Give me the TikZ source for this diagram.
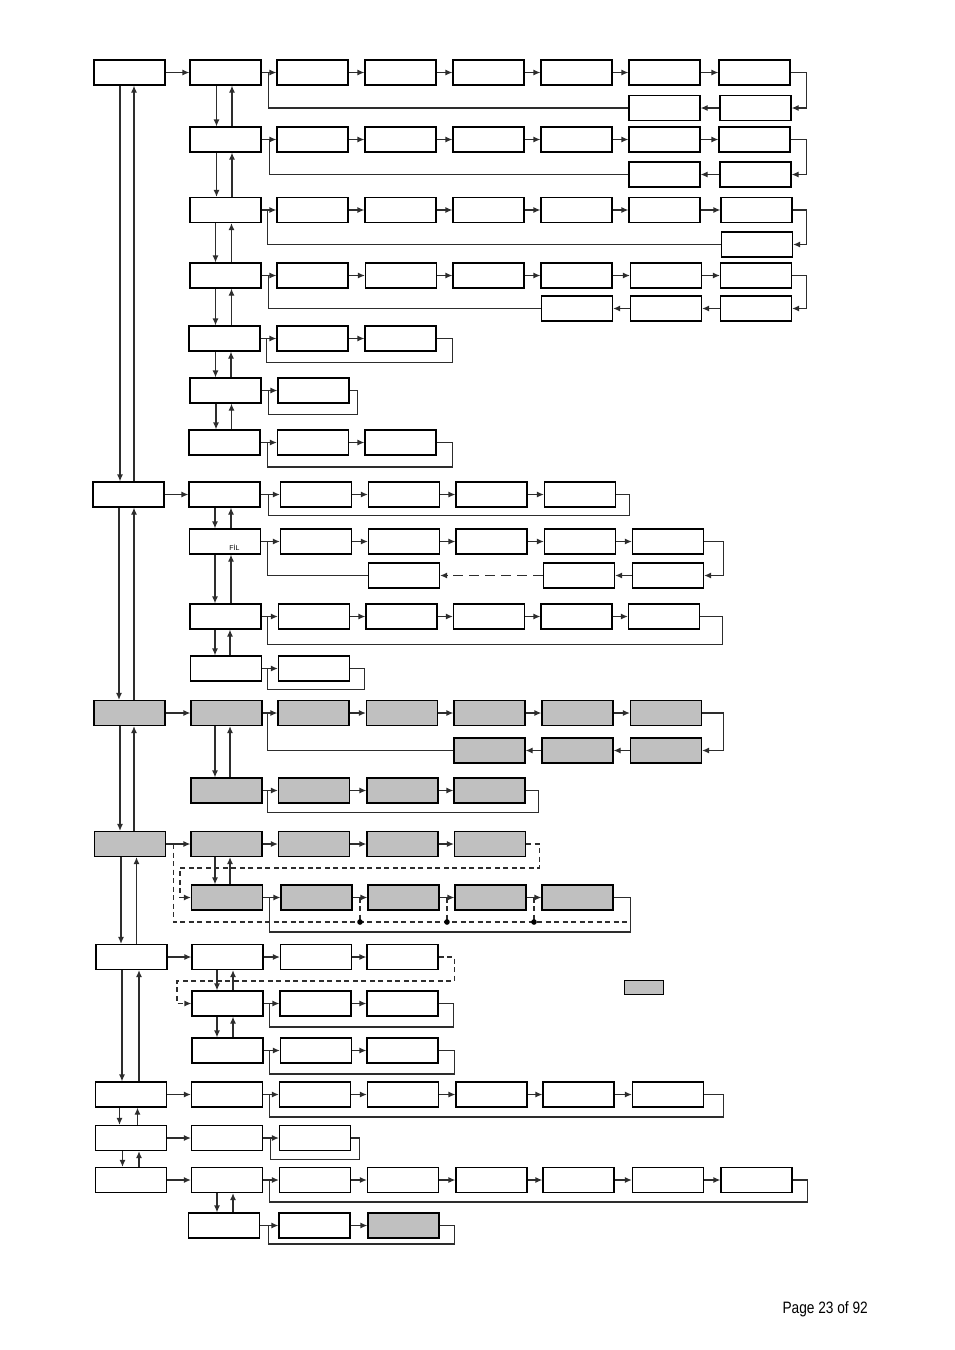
\documentclass[tikz,border=0pt]{standalone}
\usepackage{fontspec}
\usetikzlibrary{arrows.meta,calc}
\newfontfamily\lsans{Liberation Sans}
\newfontfamily\narrowsans[FakeStretch=0.83]{Liberation Sans}
\definecolor{boxgray}{RGB}{192,192,192}
\definecolor{conn}{RGB}{45,45,45}
\tikzset{
 box/.style={draw=black,line width=1.2pt,fill=white,minimum width=71pt,minimum height=25pt,inner sep=0pt},
 gbox/.style={box,fill=boxgray},
 arr/.style={draw=conn,line width=1.2pt,-{Latex[length=7pt,width=6pt]}},
 ln/.style={draw=conn,line width=1.2pt},
 dln/.style={ln,dash pattern=on 5pt off 3.5pt},
 darr/.style={arr,dash pattern=on 5pt off 3.5pt},
}
\newcommand\bx[3]{\node[box] (#1) at (#2,#3) {};}
\newcommand\gbx[3]{\node[gbox] (#1) at (#2,#3) {};}
\newcommand\vpair[4]{%
 \path (#1.south) ++(#3,0) coordinate (vpd) (#1.south) ++(#4,0) coordinate (vpu);
 \draw[arr] (vpd) -- (vpd |- #2.north);
 \draw[arr] (vpu |- #2.north) -- (vpu);}
\newcommand\chain[1]{\foreach \p/\q in {#1} {\draw[arr] (\p.east) -- (\q.west);}}
\newcommand\backchain[1]{\foreach \p/\q in {#1} {\draw[arr] (\p.west) -- (\q.east);}}
\newcommand\sloop[5]{\draw[ln] (#1.east) -| ++(#3,#4) -| ([xshift=#5pt]#2.east);}
\newcommand\rloop[3]{\draw[arr] (#1.east) -- ++(#3,0) |- (#2.east);}
\newcommand\retline[3]{\draw[ln] (#1.west) -| ([xshift=#3pt]#2.east);}
\begin{document}
\begin{tikzpicture}[x=1pt,y=-1pt]
\useasboundingbox (0,0) rectangle (954,1350);
% ---------------- main column
\bx{M1}{129.5}{72.5}
\bx{M2}{128.5}{494.5}
\gbx{M3}{129.5}{713}
\gbx{M4}{130}{844}
\bx{M5}{131.5}{957}
\bx{M6}{131}{1094.5}
\bx{M7}{131}{1138}
\bx{M8}{131}{1180}
\vpair{M1}{M2}{-9.5}{4.5}
\vpair{M2}{M3}{-9.5}{5.5}
\vpair{M3}{M4}{-9.5}{4.5}
\vpair{M4}{M5}{-9}{6.5}
\vpair{M5}{M6}{-9.5}{7.5}
\vpair{M6}{M7}{-11.5}{6.5}
\vpair{M7}{M8}{-8.5}{8}
% ---------------- group A
\bx{A1}{225.5}{72.5}
\bx{A2}{225.5}{139.5}
\bx{A3}{225.5}{210}
\bx{A4}{225.5}{275.5}
\bx{A5}{224.5}{338.5}
\bx{A6}{225.5}{390.5}
\bx{A7}{224.5}{442.5}
\draw[arr] (M1.east) -- (A1.west);
\vpair{A1}{A2}{-9}{6.5}
\vpair{A2}{A3}{-9}{6.5}
\vpair{A3}{A4}{-10}{6}
\vpair{A4}{A5}{-10}{6}
\vpair{A5}{A6}{-9}{6.5}
\vpair{A6}{A7}{-9.5}{6}
% row A1
\bx{A1a}{312.5}{72.5}\bx{A1b}{400.5}{72.5}\bx{A1c}{488.5}{72.5}\bx{A1d}{576.5}{72.5}\bx{A1e}{664.5}{72.5}\bx{A1f}{754.5}{72.5}
\bx{A1g}{755.5}{108}\bx{A1h}{664.5}{108}
\chain{A1/A1a,A1a/A1b,A1b/A1c,A1c/A1d,A1d/A1e,A1e/A1f}
\rloop{A1f}{A1g}{16}
\backchain{A1g/A1h}
\retline{A1h}{A1}{7}
% row A2
\bx{A2a}{312.5}{139.5}\bx{A2b}{400.5}{139.5}\bx{A2c}{488.5}{139.5}\bx{A2d}{576.5}{139.5}\bx{A2e}{664.5}{139.5}\bx{A2f}{754.5}{139.5}
\bx{A2g}{755.5}{174.5}\bx{A2h}{664.5}{174.5}
\chain{A2/A2a,A2a/A2b,A2b/A2c,A2c/A2d,A2d/A2e,A2e/A2f}
\rloop{A2f}{A2g}{16}
\backchain{A2g/A2h}
\retline{A2h}{A2}{8}
% row A3
\bx{A3a}{312.5}{210}\bx{A3b}{400.5}{210}\bx{A3c}{488.5}{210}\bx{A3d}{576.5}{210}\bx{A3e}{664.5}{210}\bx{A3f}{756.5}{210}
\bx{A3g}{757}{244.5}
\chain{A3/A3a,A3a/A3b,A3b/A3c,A3c/A3d,A3d/A3e,A3e/A3f}
\rloop{A3f}{A3g}{14}
\retline{A3g}{A3}{6}
% row A4
\bx{A4a}{312.5}{275.5}\bx{A4b}{401}{275.5}\bx{A4c}{488.5}{275.5}\bx{A4d}{576.5}{275.5}\bx{A4e}{666}{275.5}\bx{A4f}{756}{275.5}
\bx{A4g}{756}{308.5}\bx{A4h}{666}{308.5}\bx{A4i}{577}{308.5}
\chain{A4/A4a,A4a/A4b,A4b/A4c,A4c/A4d,A4d/A4e,A4e/A4f}
\rloop{A4f}{A4g}{14.5}
\backchain{A4g/A4h,A4h/A4i}
\retline{A4i}{A4}{7}
% row A5
\bx{A5a}{312.5}{338.5}\bx{A5b}{400.5}{338.5}
\chain{A5/A5a,A5a/A5b}
\sloop{A5b}{A5}{16}{24}{6}
% row A6
\bx{A6a}{313.5}{390.5}
\chain{A6/A6a}
\sloop{A6a}{A6}{8}{24}{7}
% row A7
\bx{A7a}{313}{442.5}\bx{A7b}{400.5}{442.5}
\chain{A7/A7a,A7a/A7b}
\sloop{A7b}{A7}{16}{24.5}{7}
% ---------------- group B
\bx{B1}{224.5}{494.5}
\bx{B2}{225}{541.5}
\bx{B3}{225.5}{616.5}
\bx{B4}{226}{668.5}
\draw[arr] (M2.east) -- (B1.west);
\vpair{B1}{B2}{-9.5}{6.5}
\vpair{B2}{B3}{-10}{6}
\vpair{B3}{B4}{-10.5}{4.5}
\node[font=\lsans\fontsize{7}{8}\selectfont,inner sep=0pt] (fil) at (234.5,547.5) {FİL};
\bx{B1a}{316}{494.5}\bx{B1b}{404}{494.5}\bx{B1c}{491.5}{494.5}\bx{B1d}{580}{494.5}
\chain{B1/B1a,B1a/B1b,B1b/B1c,B1c/B1d}
\sloop{B1d}{B1}{13}{21}{8}
\bx{B2a}{316}{541.5}\bx{B2b}{404}{541.5}\bx{B2c}{491.5}{541.5}\bx{B2d}{580}{541.5}\bx{B2e}{668}{541.5}
\bx{B2f}{668}{575.5}\bx{B2g}{579}{575.5}\bx{B2h}{404}{575.5}
\chain{B2/B2a,B2a/B2b,B2b/B2c,B2c/B2d,B2d/B2e}
\rloop{B2e}{B2f}{19}
\backchain{B2f/B2g}
\draw[arr,dash pattern=on 10pt off 6pt] (B2g.west) -- (B2h.east);
\retline{B2h}{B2}{6.5}
\bx{B3a}{314}{616.5}\bx{B3b}{401.5}{616.5}\bx{B3c}{489}{616.5}\bx{B3d}{576.5}{616.5}\bx{B3e}{664}{616.5}
\chain{B3/B3a,B3a/B3b,B3b/B3c,B3c/B3d,B3d/B3e}
\sloop{B3e}{B3}{22.5}{28}{6}
\bx{B4a}{314}{668.5}
\chain{B4/B4a}
\sloop{B4a}{B4}{14}{21}{5}
% ---------------- group C
\gbx{C1}{226.5}{713}
\gbx{C2}{226.5}{790.5}
\draw[arr] (M3.east) -- (C1.west);
\vpair{C1}{C2}{-11.5}{3.5}
\gbx{C1a}{313.5}{713}\gbx{C1b}{402}{713}\gbx{C1c}{489.5}{713}\gbx{C1d}{577.5}{713}\gbx{C1e}{666}{713}
\gbx{C1f}{666}{750.5}\gbx{C1g}{577.5}{750.5}\gbx{C1h}{489.5}{750.5}
\chain{C1/C1a,C1a/C1b,C1b/C1c,C1c/C1d,C1d/C1e}
\rloop{C1e}{C1f}{21}
\backchain{C1f/C1g,C1g/C1h}
\retline{C1h}{C1}{5}
\gbx{C2a}{314}{790.5}\gbx{C2b}{402.5}{790.5}\gbx{C2c}{489.5}{790.5}
\chain{C2/C2a,C2a/C2b,C2b/C2c}
\sloop{C2c}{C2}{13}{22}{4.5}
% ---------------- group D
\gbx{D1}{226.5}{844}
\gbx{D2}{227}{897.5}
\draw[arr] (M4.east) -- (D1.west);
\vpair{D1}{D2}{-11.5}{3.5}
\gbx{D1a}{314}{844}\gbx{D1b}{402.5}{844}\gbx{D1c}{490}{844}
\chain{D1/D1a,D1a/D1b,D1b/D1c}
\draw[darr] (D1c.east) -| ++(13,24) -| ([xshift=-11pt]D2.west) -- (D2.west);
\gbx{D2a}{316.5}{897.5}\gbx{D2b}{403.5}{897.5}\gbx{D2c}{490.5}{897.5}\gbx{D2d}{577.5}{897.5}
\chain{D2/D2a,D2a/D2b,D2b/D2c,D2c/D2d}
\draw[ln] (D2d.east) -| ++(16.5,34.5) -| ([xshift=6pt]D2.east);
\path ([xshift=7pt]M4.east) coordinate (dtop);
\path (dtop) ++(0,78) coordinate (dbl);
\path (D2d.east) ++(16.5,0) coordinate (dR);
\draw[dln] (dtop) -- (dbl) -- (dbl -| dR);
\path ($(D2a.east)!0.5!(D2b.west)$) coordinate (dm1);
\path ($(D2b.east)!0.5!(D2c.west)$) coordinate (dm2);
\path ($(D2c.east)!0.5!(D2d.west)$) coordinate (dm3);
\foreach \m in {dm1,dm2,dm3} {
  \draw[dln] (\m) -- (\m |- dbl);
  \fill[black] (\m |- dbl) circle (2.8pt);
}
% ---------------- group E
\bx{E1}{227.5}{957}
\bx{E2}{227.5}{1003.5}
\bx{E3}{227.5}{1050.5}
\draw[arr] (M5.east) -- (E1.west);
\vpair{E1}{E2}{-10.5}{5.5}
\vpair{E2}{E3}{-10.5}{5.5}
\bx{E1a}{316}{957}\bx{E1b}{402.5}{957}
\chain{E1/E1a,E1a/E1b}
\draw[darr] (E1b.east) -| ++(15.5,24) -| ([xshift=-14.5pt]E2.west) -- (E2.west);
\bx{E2a}{315.5}{1003.5}\bx{E2b}{402.5}{1003.5}
\chain{E2/E2a,E2a/E2b}
\sloop{E2b}{E2}{15}{23.5}{6}
\bx{E3a}{316}{1050.5}\bx{E3b}{402.5}{1050.5}
\chain{E3/E3a,E3a/E3b}
\sloop{E3b}{E3}{16}{23.5}{6}
\node[gbox,minimum width=39pt,minimum height=14pt,line width=1pt] (legend) at (643.5,987) {};
% ---------------- group F, G, H
\bx{F1}{227}{1094.5}
\draw[arr] (M6.east) -- (F1.west);
\bx{F1a}{315}{1094.5}\bx{F1b}{403}{1094.5}\bx{F1c}{491.5}{1094.5}\bx{F1d}{578.5}{1094.5}\bx{F1e}{668}{1094.5}
\chain{F1/F1a,F1a/F1b,F1b/F1c,F1c/F1d,F1d/F1e}
\sloop{F1e}{F1}{19.5}{22.5}{6.5}
\bx{G1}{227}{1138}
\draw[arr] (M7.east) -- (G1.west);
\bx{G1a}{315}{1138}
\chain{G1/G1a}
\sloop{G1a}{G1}{8.5}{21.5}{7.5}
\bx{H1}{227}{1180}
\bx{H2}{224}{1225.5}
\draw[arr] (M8.east) -- (H1.west);
\vpair{H1}{H2}{-10}{6}
\bx{H1a}{315}{1180}\bx{H1b}{403}{1180}\bx{H1c}{491.5}{1180}\bx{H1d}{578.5}{1180}\bx{H1e}{668}{1180}\bx{H1f}{756.5}{1180}
\chain{H1/H1a,H1a/H1b,H1b/H1c,H1c/H1d,H1d/H1e,H1e/H1f}
\sloop{H1f}{H1}{15}{22}{6.5}
\bx{H2a}{314.5}{1225.5}\gbx{H2b}{403.5}{1225.5}
\chain{H2/H2a,H2a/H2b}
\sloop{H2b}{H2}{15}{18.5}{8.5}
% ---------------- page number
\node[font=\narrowsans\fontsize{16.5}{19}\selectfont,anchor=base east,inner sep=0pt] (page) at (868,1313) {Page 23 of 92};
\end{tikzpicture}
\end{document}
